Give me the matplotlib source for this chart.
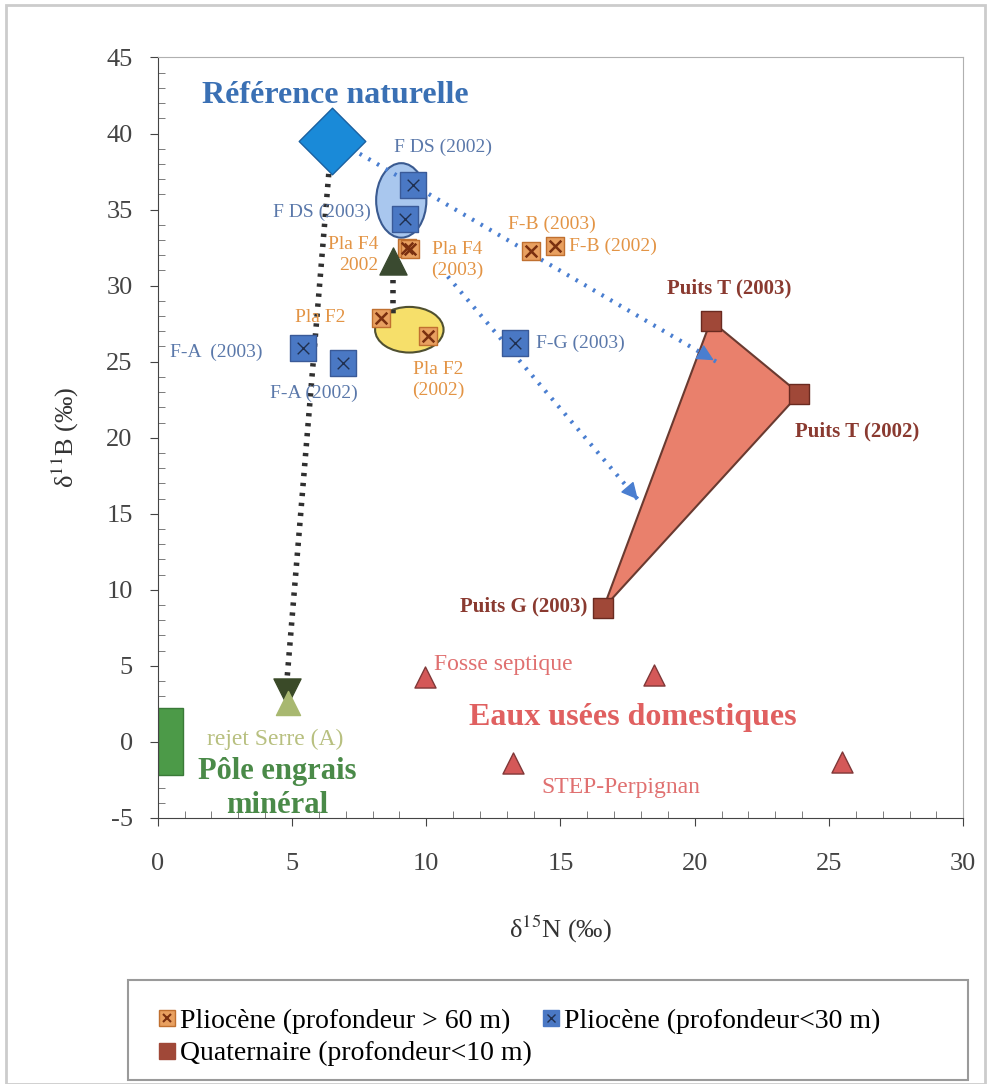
import matplotlib.pyplot as plt
from matplotlib.patches import Ellipse, Polygon, Rectangle
from matplotlib.lines import Line2D

plt.rcParams['font.family'] = ['Liberation Serif', 'DejaVu Serif']
plt.rcParams['mathtext.fontset'] = 'stix'
plt.rcParams['axes.unicode_minus'] = False

# pliocene deep wells (> 60 m)
deep_names = ["Pla F4\n2002", "Pla F4\n(2003)", "F-B (2003)", "F-B (2002)", "Pla F2", "Pla F2\n(2002)"]
deep_x = [9.3, 9.4, 13.9, 14.8, 8.3, 10.05]
deep_y = [32.5, 32.4, 32.3, 32.6, 27.9, 26.7]

# pliocene shallow wells (< 30 m)
shallow_names = ["F DS (2002)", "F DS (2003)", "F-A  (2003)", "F-A (2002)", "F-G (2003)"]
shallow_x = [9.5, 9.2, 5.4, 6.9, 13.3]
shallow_y = [36.6, 34.4, 25.9, 24.9, 26.2]

# quaternary wells
quat_names = ["Puits T (2003)", "Puits T (2002)", "Puits G (2003)"]
quat_x = [20.6, 23.9, 16.6]
quat_y = [27.7, 22.9, 8.8]

# waste water end members
waste_x = [9.96, 13.25, 18.5, 25.5]
waste_y = [4.3, -1.4, 4.4, -1.3]

ref_x, ref_y = 6.5, 39.5
serre_x = [4.8, 4.85]
serre_y = [3.3, 2.55]
mid_x, mid_y = 8.75, 31.6
arrow_ends_x = [20.8, 17.95]
arrow_ends_y = [25.0, 15.8]

fig = plt.figure(figsize=(9.92, 10.84), dpi=100)
ax = fig.add_axes([0.159, 0.2454, 0.812, 0.7016])

# frame around the whole figure
fig.patches.append(Rectangle((0.006, 0.0), 0.987, 0.995, transform=fig.transFigure,
                             fill=False, edgecolor='#cccccc', linewidth=2))

# zones
ax.add_patch(Polygon(list(zip(quat_x, quat_y)), closed=True, facecolor='#e9806c',
                     edgecolor='#6a3a30', linewidth=1.5, zorder=1))
ax.add_patch(Ellipse((9.07, 35.6), 1.87, 4.9, facecolor='#a9c7ee', edgecolor='#3a5a90',
                     linewidth=1.5, zorder=1))
ax.add_patch(Ellipse((9.37, 27.1), 2.55, 3.0, facecolor='#f6df6a', edgecolor='#505030',
                     linewidth=1.5, zorder=1))
ax.add_patch(Rectangle((0.0, -2.2), 0.95, 4.4, facecolor='#4c9a48', edgecolor='#3a7a38', zorder=2))

# mixing lines
ax.plot([ref_x - 0.1, serre_x[0]], [ref_y - 1.5, serre_y[0] + 0.5], color='#303030',
        linestyle=(0, (0.6, 1.2)), linewidth=4, zorder=2)
ax.plot([mid_x, mid_x], [mid_y - 0.6, deep_y[4]], color='#303030',
        linestyle=(0, (0.6, 1.2)), linewidth=4, zorder=2)
blue_lines = [((ref_x + 0.7, ref_y - 0.5), (arrow_ends_x[0], arrow_ends_y[0])),
              ((deep_x[1] + 1.4, deep_y[1] - 1.8), (arrow_ends_x[1], arrow_ends_y[1]))]
for (x0, y0), (x1, y1) in blue_lines:
    ax.plot([x0, x1], [y0, y1], color='#4a7ed0', linestyle=(0, (0.6, 1.8)), linewidth=3, zorder=3)
    ax.annotate("", xy=(x1, y1), xytext=(x1 - (x1 - x0) * 0.04, y1 - (y1 - y0) * 0.04),
                arrowprops=dict(arrowstyle='-|>', color='#4a7ed0', linewidth=1,
                                mutation_scale=26), zorder=3)

# points
ax.scatter([ref_x], [ref_y], marker='D', s=1150, color='#1a8ad8', edgecolor='#1a60a0', zorder=4)
ax.scatter(shallow_x, shallow_y, marker='s', s=330, color='#4a78c4', edgecolor='#3a5a98', zorder=4)
ax.scatter(shallow_x, shallow_y, marker='x', s=70, color='#203050', linewidth=1, zorder=5)
ax.scatter(deep_x, deep_y, marker='s', s=170, color='#e8a060', edgecolor='#c07030', zorder=4)
ax.scatter(deep_x, deep_y, marker='x', s=70, color='#7a3010', linewidth=1.8, zorder=5)
ax.scatter(quat_x, quat_y, marker='s', s=200, color='#a04838', edgecolor='#6a2a20', zorder=4)
ax.scatter(waste_x, waste_y, marker='^', s=230, color='#d45858', edgecolor='#803838', zorder=4)
ax.scatter([mid_x], [mid_y], marker='^', s=380, color='#3a4a30', zorder=4)
ax.scatter([serre_x[0]], [serre_y[0]], marker='v', s=380, color='#3a4a28', zorder=4)
ax.scatter([serre_x[1]], [serre_y[1]], marker='^', s=300, color='#a8b870', zorder=4)

# labels
blue_txt = '#5a78aa'
org_txt = '#e39445'
red_txt = '#8a3a30'
ax.text(6.6, 42.5, "Référence naturelle", color='#3a70b4', fontsize=23, fontweight='bold', ha='center', va='center')
ax.text(8.8, 39.1, shallow_names[0], color=blue_txt, fontsize=14, ha='left', va='center')
ax.text(7.95, 34.8, shallow_names[1], color=blue_txt, fontsize=14, ha='right', va='center')
ax.text(0.45, 25.6, shallow_names[2], color=blue_txt, fontsize=14, ha='left', va='center')
ax.text(4.2, 22.9, shallow_names[3], color=blue_txt, fontsize=14, ha='left', va='center')
ax.text(14.1, 26.2, shallow_names[4], color=blue_txt, fontsize=14, ha='left', va='center')
ax.text(8.2, 32.0, deep_names[0], color=org_txt, fontsize=14, ha='right', va='center', linespacing=1.3)
ax.text(10.2, 31.7, deep_names[1], color=org_txt, fontsize=14, ha='left', va='center', linespacing=1.3)
ax.text(13.05, 34.0, deep_names[2], color=org_txt, fontsize=14, ha='left', va='center')
ax.text(15.3, 32.6, deep_names[3], color=org_txt, fontsize=14, ha='left', va='center')
ax.text(7.0, 27.9, deep_names[4], color=org_txt, fontsize=14, ha='right', va='center')
ax.text(10.45, 23.8, deep_names[5], color=org_txt, fontsize=14, ha='center', va='center', linespacing=1.3)
ax.text(21.3, 29.8, quat_names[0], color=red_txt, fontsize=15, fontweight='bold', ha='center', va='center')
ax.text(23.75, 20.4, quat_names[1], color=red_txt, fontsize=15, fontweight='bold', ha='left', va='center')
ax.text(16.0, 8.9, quat_names[2], color=red_txt, fontsize=15, fontweight='bold', ha='right', va='center')
ax.text(10.3, 5.1, "Fosse septique", color='#e07070', fontsize=17, ha='left', va='center')
ax.text(17.7, 1.6, "Eaux usées domestiques", color='#e06060', fontsize=23, fontweight='bold', ha='center', va='center')
ax.text(14.3, -3.0, "STEP-Perpignan", color='#e07070', fontsize=17, ha='left', va='center')
ax.text(1.85, 0.15, "rejet Serre (A)", color='#b8c080', fontsize=17, ha='left', va='center')
ax.text(4.45, -3.05, "Pôle engrais\nminéral", color='#4a8a48', fontsize=22, fontweight='bold',
        ha='center', va='center', linespacing=1.2)

# axes
ax.set_xlim(0, 30)
ax.set_ylim(-5, 45)
ax.set_xticks(range(0, 31, 5))
ax.set_yticks(range(-5, 46, 5))
ax.set_xticks(range(0, 31), minor=True)
ax.set_yticks(range(-5, 46), minor=True)
ax.tick_params(which='major', direction='out', length=6, labelsize=19, colors='#444444')
ax.tick_params(axis='x', which='major', pad=19)
ax.tick_params(axis='y', which='major', pad=12)
ax.tick_params(which='minor', direction='in', length=5, colors='#666666')
ax.tick_params(which='both', top=False, right=False)
for side in ['top', 'right']:
    ax.spines[side].set_color('#b0b0b0')
for side in ['left', 'bottom']:
    ax.spines[side].set_color('#444444')
ax.set_xlabel("δ$^{15}$N (‰)", fontsize=19, color='#333333', labelpad=28)
ax.set_ylabel("δ$^{11}$B (‰)", fontsize=19, color='#333333', labelpad=18)

# legend
handles = [
    (Line2D([], [], marker='s', linestyle='', markersize=12, color='#e8a060', markeredgecolor='#c07030'),
     Line2D([], [], marker='x', linestyle='', markersize=6, color='#7a3010', markeredgewidth=1.5)),
    Line2D([], [], marker='s', linestyle='', markersize=12, color='#a04838'),
    (Line2D([], [], marker='s', linestyle='', markersize=12, color='#4a78c4'),
     Line2D([], [], marker='x', linestyle='', markersize=6, color='#203050', markeredgewidth=1)),
]
labels = ["Pliocène (profondeur > 60 m)", "Quaternaire (profondeur<10 m)", "Pliocène (profondeur<30 m)"]
fig.legend(handles, labels, ncol=2, loc='upper left', bbox_to_anchor=(0.135, 0.09),
           fontsize=20, frameon=False, handletextpad=0.05, columnspacing=0.3,
           handlelength=0.8, borderpad=0.3, labelspacing=0.25)
fig.patches.append(Rectangle((0.129, 0.004), 0.847, 0.092, transform=fig.transFigure,
                             fill=False, edgecolor='#9a9a9a', linewidth=1.5))

fig.savefig("out.png", dpi=100)
